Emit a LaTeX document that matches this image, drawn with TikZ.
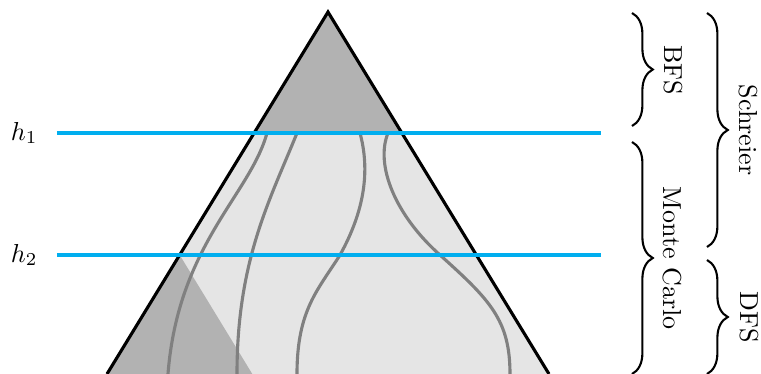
\documentclass[tikz,border=0pt]{standalone}
\usetikzlibrary{decorations.pathreplacing, positioning}

\definecolor{levelblue}{RGB}{0,174,239}

\begin{document}
\begin{tikzpicture}[
        x=0.385pt, y=-0.385pt,
        level/.style={line width=1.3pt, levelblue},
        walk/.style={line width=1.2pt, black!50},
        side/.style={line width=1.2pt, line join=miter},
        curly/.style={decorate, decoration={brace, amplitude=8pt}, thick},
        phase/.style={rotate=-90, inner sep=0pt}
    ]

    \useasboundingbox (0,0) rectangle (761,374);
    \clip (0,0) rectangle (761,374);

    \coordinate (apex) at (328,12);
    \coordinate (bl) at (107,374);
    \coordinate (br) at (549,374);
    \coordinate (l1) at (254.1,133);
    \coordinate (r1) at (401.9,133);
    \coordinate (l2) at (179.7,255);
    \coordinate (m2) at (252.3,374);

    \fill[black!10] (apex) -- (bl) -- (br) -- cycle;
    \fill[black!30] (apex) -- (l1) -- (r1) -- cycle;
    \fill[black!30] (l2) -- (bl) -- (m2) -- cycle;

    \draw[walk] (267,133) .. controls (250,195) and (178,245) .. (168,374);
    \draw[walk] (297,133) .. controls (270,200) and (237,260) .. (237,374);
    \draw[walk] (360,133) .. controls (370,170) and (365,210) .. (340,255)
                          .. controls (318,290) and (297,310) .. (297,374);
    \draw[walk] (388,133) .. controls (375,165) and (395,215) .. (440,255)
                          .. controls (490,300) and (510,320) .. (510,374);

    \draw[side] (bl) -- (apex) -- (br);

    \coordinate (h1w) at (57,133);
    \coordinate (h1e) at (601,133);
    \coordinate (h2w) at (57,255);
    \coordinate (h2e) at (601,255);
    \draw[level] (h1w) -- (h1e);
    \draw[level] (h2w) -- (h2e);
    \node (h1) [left=4pt of h1w] {$h_1$};
    \node (h2) [left=4pt of h2w] {$h_2$};

    \coordinate (bfsA) at (632,13);
    \coordinate (bfsB) at (632,126);
    \coordinate (mcA) at (632,142);
    \coordinate (mcB) at (632,374);
    \coordinate (schA) at (707,13);
    \coordinate (schB) at (707,247);
    \coordinate (dfsA) at (707,260);
    \coordinate (dfsB) at (707,374);

    \draw[curly] (bfsA) -- (bfsB);
    \draw[curly] (mcA) -- (mcB);
    \draw[curly] (schA) -- (schB);
    \draw[curly] (dfsA) -- (dfsB);

    \node[phase] (bfs) at (673,70) {BFS};
    \node[phase] (mc) at (672,258) {Monte Carlo};
    \node[phase] (sch) at (748,130) {Schreier};
    \node[phase] (dfs) at (749,317) {DFS};
\end{tikzpicture}
\end{document}
